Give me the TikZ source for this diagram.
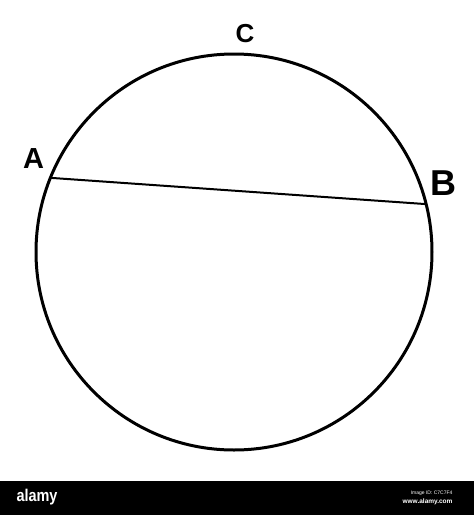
\documentclass[tikz,border=0pt]{standalone}
\usepackage{fontspec}
\setmainfont{Liberation Sans}
\usetikzlibrary{positioning}

\begin{document}
\begin{tikzpicture}[x=1pt, y=-1pt]
                \useasboundingbox (0,0) rectangle (474,515);
                \node[circle, draw, line width=3pt, inner sep=0pt, outer sep=0pt, minimum size=396pt] (circ) at (234,252) {};
                \coordinate (ptA) at (circ.158);
                \coordinate (ptB) at (circ.14.7);
                \node[font=\bfseries\fontsize{29}{29}\selectfont] (labA) at (33.5,159) {A};
                \node[font=\bfseries\fontsize{36}{36}\selectfont] (labB) at (443,183) {B};
                \node[font=\bfseries\fontsize{26}{26}\selectfont] (labC) at (245,34) {C};
                \draw[line width=2pt] (ptA) -- (ptB);
                % stock bar along the bottom
                \fill[black] (0,481) rectangle (474,515);
                \node[white, font=\bfseries\fontsize{17}{17}\selectfont, xscale=0.85] (logo) at (37,497) {alamy};
                \node[white, anchor=east, font=\fontsize{5}{5}\selectfont] (imgid) at (456,493) {Image ID: C7C7F4};
                \node[white, anchor=east, font=\bfseries\fontsize{6.5}{6.5}\selectfont] (site) at (456,502) {www.alamy.com};
            \end{tikzpicture}
\end{document}
